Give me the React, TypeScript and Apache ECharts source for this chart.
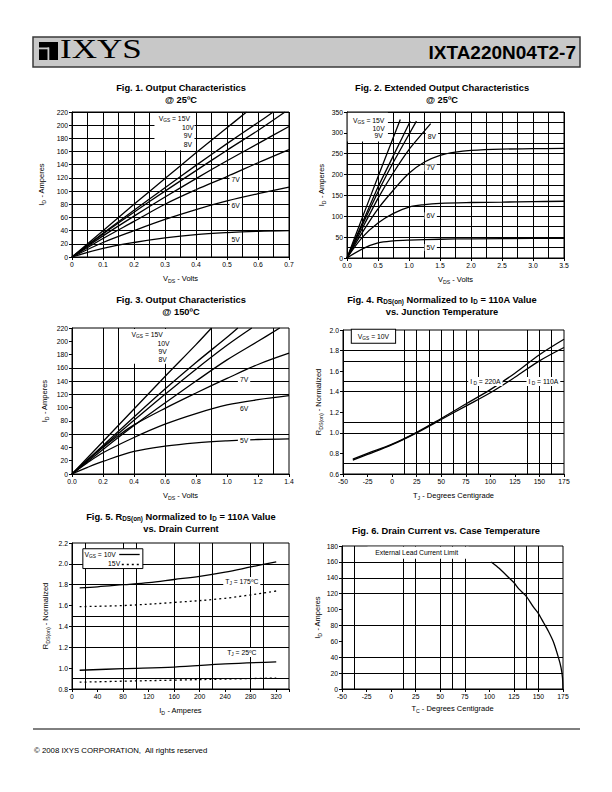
import React, { useEffect, useRef } from 'react';
import * as echarts from 'echarts';

const FONT = '"Liberation Sans", Arial, Helvetica, sans-serif';

// ---------------- Fig. 1  Output Characteristics @ 25ºC (VDS, ID) ----------------
const f1V15 = [[0, 0], [0.1, 40], [0.2, 80], [0.3, 119], [0.4, 158], [0.5, 196], [0.563, 220]];
const f1V10 = [[0, 0], [0.1, 36], [0.2, 71], [0.3, 105], [0.4, 139], [0.5, 172], [0.6, 204], [0.649, 220]];
const f1V9 = [[0, 0], [0.1, 35], [0.2, 68], [0.3, 100], [0.4, 131], [0.5, 162], [0.6, 192], [0.687, 220]];
const f1V8 = [[0, 0], [0.1, 32], [0.2, 62], [0.3, 91], [0.4, 119], [0.5, 146], [0.6, 172], [0.7, 198]];
const f1V7 = [[0, 0], [0.1, 28], [0.2, 54], [0.3, 80], [0.4, 102], [0.5, 122], [0.6, 143], [0.7, 163]];
const f1V6 = [[0, 0], [0.1, 22], [0.2, 40], [0.3, 57], [0.4, 72], [0.5, 85], [0.6, 96], [0.7, 106]];
const f1V5 = [[0, 0], [0.1, 13], [0.2, 22], [0.3, 29], [0.4, 34], [0.5, 37], [0.6, 39], [0.7, 40]];

// ---------------- Fig. 2  Extended Output Characteristics @ 25ºC ----------------
const f2V15 = [[0, 0], [0.25, 98], [0.5, 195], [0.86, 332]];
const f2V10 = [[0, 0], [0.25, 85], [0.5, 170], [0.75, 246], [1.02, 328]];
const f2V9 = [[0, 0], [0.25, 80], [0.5, 158], [0.75, 230], [1.12, 328]];
const f2V8 = [[0, 0], [0.25, 72], [0.5, 143], [0.75, 205], [1.0, 260], [1.35, 322]];
const f2V7 = [[0, 0], [0.25, 62], [0.5, 118], [0.75, 163], [1.0, 203], [1.25, 230], [1.5, 246], [1.75, 254], [2.0, 258], [2.5, 261], [3.0, 262], [3.5, 263]];
const f2V6 = [[0, 0], [0.25, 50], [0.5, 84], [0.75, 107], [1.0, 122], [1.25, 128], [1.5, 131], [2.0, 133], [2.5, 134], [3.0, 135], [3.5, 136]];
const f2V5 = [[0, 0], [0.25, 22], [0.5, 36], [0.75, 41], [1.0, 43], [1.5, 45], [2.0, 46], [3.0, 47], [3.5, 47]];

// ---------------- Fig. 3  Output Characteristics @ 150ºC ----------------
const f3V15 = [[0, 0], [0.2, 49], [0.4, 98], [0.6, 147], [0.8, 195], [0.9, 220]];
const f3V10 = [[0, 0], [0.2, 43], [0.4, 86], [0.6, 128], [0.8, 168], [1.0, 206], [1.07, 220]];
const f3V9 = [[0, 0], [0.2, 41], [0.4, 81], [0.6, 120], [0.8, 158], [1.0, 194], [1.16, 220]];
const f3V8 = [[0, 0], [0.2, 37], [0.4, 73], [0.6, 107], [0.8, 140], [1.0, 172], [1.2, 200], [1.34, 220]];
const f3V7 = [[0, 0], [0.1, 21], [0.2, 40], [0.3, 58], [0.4, 74], [0.6, 99], [0.8, 122], [1.0, 144], [1.2, 165], [1.4, 182]];
const f3V6 = [[0, 0], [0.1, 17], [0.2, 32], [0.4, 55], [0.6, 75], [0.8, 91], [1.0, 104], [1.2, 112], [1.4, 118]];
const f3V5 = [[0, 0], [0.1, 10], [0.2, 19], [0.4, 34], [0.6, 42], [0.8, 47], [1.0, 50], [1.2, 52], [1.4, 53]];

// ---------------- Fig. 4  RDS(on) vs TJ ----------------
const f4ID220 = [[-40, 0.745], [-25, 0.8], [0, 0.89], [25, 1.005], [50, 1.14], [75, 1.28], [100, 1.42], [125, 1.58], [150, 1.76], [175, 1.91]];
const f4ID110 = [[-40, 0.735], [-25, 0.79], [0, 0.885], [25, 1.0], [50, 1.13], [75, 1.26], [100, 1.39], [125, 1.54], [150, 1.7], [175, 1.83]];

// ---------------- Fig. 5  RDS(on) vs ID ----------------
const f5T175V10 = [[12, 1.77], [40, 1.78], [80, 1.8], [120, 1.82], [160, 1.85], [200, 1.88], [240, 1.92], [280, 1.97], [320, 2.02]];
const f5T175V15 = [[12, 1.59], [80, 1.6], [160, 1.63], [240, 1.67], [320, 1.74]];
const f5T25V10 = [[12, 0.98], [80, 0.995], [160, 1.01], [240, 1.04], [320, 1.06]];
const f5T25V15 = [[12, 0.865], [80, 0.875], [160, 0.885], [240, 0.895], [320, 0.905]];

// ---------------- Fig. 6  ID vs TC ----------------
const f6ID = [[102, 160], [110, 152], [120, 140], [125, 134], [130, 126], [137.5, 117], [145, 103], [150, 95], [155, 84], [160, 73], [165, 60], [170, 41], [173, 27], [174.5, 14], [175, 0]];

// ---------------- grid lines drawn in the reference (axis values) ----------------
const f3GridX = [0.2, 0.3, 0.4, 0.6, 0.9, 1.3];
const f3GridY = [60, 120, 140, 160];
const f4GridX = [12.5, 25, 37.5, 50, 62.5, 75, 87.5, 137.5, 150, 162.5];
const f4GridY = [0.7, 1.0, 1.1, 1.4, 1.5, 1.7, 1.8];
const f5GridX = [20, 80, 100, 160, 200, 220, 280, 300];
const f5GridY = [0.9, 1.2, 1.4, 1.5, 1.8, 2.0];
const f6GridX = [-37.5, 12.5, 25, 50, 62.5, 75, 125, 137.5, 150];
const f6GridY = [20, 40, 80, 120, 140, 160];

// ---------------- annotation texts (rich tokens: n normal, s subscript) ----------------
const f1Labels = [
  { t: '{n|V}{s|GS}{n| = 15V}', x: 0.33, y: 210 },
  { t: '10V', x: 0.374, y: 197 },
  { t: '9V', x: 0.374, y: 184 },
  { t: '8V', x: 0.374, y: 171 },
  { t: '7V', x: 0.528, y: 118, bg: true },
  { t: '6V', x: 0.528, y: 78, bg: true },
  { t: '5V', x: 0.528, y: 27, bg: true },
];
const f2Labels = [
  { t: '{n|V}{s|GS}{n| = 15V}', x: 0.35, y: 330 },
  { t: '10V', x: 0.51, y: 311 },
  { t: '9V', x: 0.51, y: 293 },
  { t: '8V', x: 1.37, y: 292, bg: true },
  { t: '7V', x: 1.35, y: 216, bg: true },
  { t: '6V', x: 1.35, y: 101, bg: true },
  { t: '5V', x: 1.35, y: 25, bg: true },
];
const f3Labels = [
  { t: '{n|V}{s|GS}{n| = 15V}', x: 0.485, y: 210 },
  { t: '10V', x: 0.59, y: 197 },
  { t: '9V', x: 0.585, y: 185 },
  { t: '8V', x: 0.585, y: 173 },
  { t: '7V', x: 1.11, y: 142, bg: true },
  { t: '6V', x: 1.11, y: 98, bg: true },
  { t: '5V', x: 1.11, y: 50, bg: true },
];
const f4Labels = [
  { t: '{n|V}{s|GS}{n| = 10V}', x: -19, y: 1.94, border: true },
  { t: '{n|I}{s| D}{n| = 220A}', x: 95, y: 1.5, bg: true },
  { t: '{n|I}{s| D}{n| = 110A}', x: 154, y: 1.5, bg: true },
];
const f5Labels = [
  { t: '{n|V}{s|GS}{n| = 10V}', x: 44, y: 2.09 },
  { t: '15V', x: 66, y: 2.0 },
  { t: '{n|T}{s|J}{n| = 175ºC}', x: 266, y: 1.83, bg: true },
  { t: '{n|T}{s|J}{n| = 25ºC}', x: 266, y: 1.15, bg: true },
];
const f6Labels = [{ t: 'External Lead Current Limit', x: 26, y: 171.5 }];

// white boxes behind legends [x1, y1, x2, y2, bordered]
const f1Boxes = [[0.266, 162, 0.395, 218.5, false]];
const f2Boxes = [[0.01, 279, 0.66, 348, false]];
const f3Boxes = [[0.335, 166, 0.63, 218.5, false]];
const f5Boxes = [[17, 1.955, 111, 2.145, true]];
const f6Boxes = [[-24, 164, 79, 179, false]];
// legend sample strokes of Fig. 5 [x1, y, x2, dotted]
const f5LegendSamples = [[74, 2.09, 106, false], [78, 2.0, 106, true]];

const GRIDS = [
  { left: 72, top: 112, width: 217, height: 145 },
  { left: 347, top: 112, width: 217, height: 146 },
  { left: 72, top: 328, width: 217, height: 146 },
  { left: 343, top: 330, width: 221, height: 144 },
  { left: 72, top: 543, width: 217, height: 146 },
  { left: 342, top: 546, width: 221, height: 143 },
];

const BLACK = '#000';
const LBL_RICH = {
  n: { fontSize: 6.8, fontFamily: FONT, color: BLACK, lineHeight: 9 },
  s: { fontSize: 4.8, fontFamily: FONT, color: BLACK, verticalAlign: 'bottom', lineHeight: 6 },
};
const NAME_RICH = {
  n: { fontSize: 7.5, fontFamily: FONT, color: BLACK, lineHeight: 10 },
  s: { fontSize: 5.2, fontFamily: FONT, color: BLACK, verticalAlign: 'bottom', lineHeight: 6 },
};
const TITLE_RICH = {
  b: { fontSize: 9.3, fontWeight: 'bold', fontFamily: FONT, fill: BLACK, color: BLACK, lineHeight: 11 },
  s: { fontSize: 6.3, fontWeight: 'bold', fontFamily: FONT, fill: BLACK, color: BLACK, verticalAlign: 'bottom', lineHeight: 7 },
};

const fix1 = (v: number) => v.toFixed(1);
const int0 = (v: number) => String(Math.round(v));

function axis(gi: number, min: number, max: number, interval: number, fmt: any, name: string, nameGap: number, o: any = {}) {
  return {
    type: 'value', gridIndex: gi, min, max, interval, name, nameLocation: 'middle', nameGap,
    nameTextStyle: { fontSize: 7.5, color: BLACK, fontFamily: FONT, rich: NAME_RICH },
    axisLine: { show: true, onZero: false, lineStyle: { color: BLACK, width: 1 } },
    axisTick: { show: true, length: 3, lineStyle: { color: BLACK, width: 1 } },
    axisLabel: { fontSize: 6.8, color: BLACK, fontFamily: FONT, margin: 4, formatter: fmt, hideOverlap: false },
    splitLine: { show: !!o.split, lineStyle: { color: BLACK, width: 1 } },
    minorTick: { show: false, splitNumber: o.minor || 5 },
    minorSplitLine: { show: !!o.minor, lineStyle: { color: BLACK, width: 1 } },
  };
}

function curve(gi: number, data: number[][], o: any = {}) {
  return {
    type: 'line', xAxisIndex: gi, yAxisIndex: gi, data, showSymbol: false, symbol: 'none',
    smooth: o.smooth ?? 0.35, silent: true, z: 3,
    lineStyle: { color: BLACK, width: 1.3, type: o.dotted ? [2, 3] : 'solid' },
  };
}

function decor(gi: number, gx: number[], gy: number[], boxes: any[], labels: any[], samples: any[] = []) {
  const out: any[] = [];
  if (gx.length || gy.length) {
    out.push({
      type: 'line', xAxisIndex: gi, yAxisIndex: gi, data: [], silent: true,
      markLine: {
        z: 0, silent: true, symbol: ['none', 'none'], label: { show: false }, emphasis: { disabled: true },
        lineStyle: { color: BLACK, width: 1, type: 'solid' },
        data: [...gx.map((v) => ({ xAxis: v })), ...gy.map((v) => ({ yAxis: v }))],
      },
    });
  }
  if (boxes.length) {
    out.push({
      type: 'line', xAxisIndex: gi, yAxisIndex: gi, data: [], silent: true,
      markArea: {
        z: 1, silent: true, label: { show: false }, emphasis: { disabled: true },
        itemStyle: { color: '#fff' },
        data: boxes.map((b) => [
          { coord: [b[0], b[1]], itemStyle: { color: '#fff', borderColor: BLACK, borderWidth: b[4] ? 1 : 0 } },
          { coord: [b[2], b[3]] },
        ]),
      },
    });
  }
  if (samples.length) {
    out.push({
      type: 'line', xAxisIndex: gi, yAxisIndex: gi, data: [], silent: true,
      markLine: {
        z: 4, silent: true, symbol: ['none', 'none'], label: { show: false }, emphasis: { disabled: true },
        data: samples.map((s) => [
          { coord: [s[0], s[1]], lineStyle: { color: BLACK, width: 1.3, type: s[3] ? [2, 3] : 'solid' } },
          { coord: [s[2], s[1]] },
        ]),
      },
    });
  }
  if (labels.length) {
    out.push({
      type: 'line', xAxisIndex: gi, yAxisIndex: gi, data: [], silent: true,
      markPoint: {
        z: 5, silent: true, symbol: 'circle', symbolSize: 1, itemStyle: { color: 'rgba(0,0,0,0)' },
        emphasis: { disabled: true },
        data: labels.map((l) => ({
          coord: [l.x, l.y],
          label: {
            show: true, position: 'inside', formatter: l.t, color: BLACK, fontSize: 6.8, fontFamily: FONT,
            rich: LBL_RICH,
            backgroundColor: l.bg || l.border ? '#fff' : 'transparent',
            borderColor: l.border ? BLACK : 'transparent', borderWidth: l.border ? 1 : 0,
            padding: l.border ? [2, 6, 2, 6] : l.bg ? [0, 2, 0, 2] : 0,
          },
        })),
      },
    });
  }
  return out;
}

function gtext(x: number, y: number, text: string, fontSize: number, o: any = {}) {
  const align = o.align || 'center';
  const valign = o.valign || 'middle';
  return {
    type: 'text', x, y, z: 10, scaleX: o.scaleX || 1,
    style: {
      text, fontSize, fontWeight: o.bold ? 'bold' : 'normal', fontFamily: o.family || FONT,
      fill: BLACK, textFill: BLACK, align, textAlign: align, verticalAlign: valign, textVerticalAlign: valign,
      rich: o.rich,
    },
  };
}

const ID_NAME = '{n|I}{s|D}{n| - Amperes}';
const VDS_NAME = '{n|V}{s|DS}{n| - Volts}';
const RDS_NAME = '{n|R}{s|DS(on)}{n| - Normalized}';

function buildOption() {
  const xAxis = [
    axis(0, 0, 0.7, 0.1, (v: number) => (v === 0 ? '0' : v.toFixed(1)), VDS_NAME, 16, { split: true, minor: 2 }),
    axis(1, 0, 3.5, 0.5, fix1, VDS_NAME, 16, { split: true, minor: 2 }),
    axis(2, 0, 1.4, 0.2, fix1, VDS_NAME, 16),
    axis(3, -50, 175, 25, int0, '{n|T}{s|J}{n| - Degrees Centigrade}', 16),
    axis(4, 0, 340, 40, (v: number) => (v > 330 ? '' : int0(v)), '{n|I}{s|D}{n| - Amperes}', 16),
    axis(5, -50, 175, 25, int0, '{n|T}{s|C}{n| - Degrees Centigrade}', 14),
  ];
  const yAxis = [
    axis(0, 0, 220, 20, int0, ID_NAME, 26, { split: true }),
    axis(1, 0, 350, 50, int0, ID_NAME, 21, { split: true, minor: 2 }),
    axis(2, 0, 220, 20, int0, ID_NAME, 23),
    axis(3, 0.6, 2.0, 0.2, fix1, RDS_NAME, 20),
    axis(4, 0.8, 2.2, 0.2, fix1, RDS_NAME, 22),
    axis(5, 0, 180, 20, int0, ID_NAME, 18),
  ];

  const series: any[] = [
    ...[f1V15, f1V10, f1V9, f1V8, f1V7, f1V6, f1V5].map((d) => curve(0, d)),
    ...decor(0, [], [], f1Boxes, f1Labels),
    ...[f2V15, f2V10, f2V9, f2V8].map((d) => curve(1, d, { smooth: 0.15 })),
    ...[f2V7, f2V6, f2V5].map((d) => curve(1, d)),
    ...decor(1, [], [], f2Boxes, f2Labels),
    ...[f3V15, f3V10, f3V9, f3V8, f3V7, f3V6, f3V5].map((d) => curve(2, d)),
    ...decor(2, f3GridX, f3GridY, f3Boxes, f3Labels),
    curve(3, f4ID220), curve(3, f4ID110),
    ...decor(3, f4GridX, f4GridY, [], f4Labels),
    curve(4, f5T175V10), curve(4, f5T175V15, { dotted: true }), curve(4, f5T25V10), curve(4, f5T25V15, { dotted: true }),
    ...decor(4, f5GridX, f5GridY, f5Boxes, f5Labels, f5LegendSamples),
    curve(5, f6ID, { smooth: 0.2 }),
    ...decor(5, f6GridX, f6GridY, f6Boxes, f6Labels),
  ];

  const titleOpt = { bold: true, rich: TITLE_RICH };
  const graphic: any[] = [
    // header bar
    { type: 'rect', shape: { x: 33, y: 37, width: 547, height: 30 }, style: { fill: '#c8c8c8', stroke: '#3a3a3a', lineWidth: 1.5 }, z: 9 },
    { type: 'rect', shape: { x: 39, y: 42, width: 19, height: 18 }, style: { fill: BLACK }, z: 10 },
    { type: 'rect', shape: { x: 39, y: 47.5, width: 10, height: 1.8 }, style: { fill: '#c8c8c8' }, z: 11 },
    { type: 'rect', shape: { x: 47.5, y: 47.5, width: 1.8, height: 12.5 }, style: { fill: '#c8c8c8' }, z: 11 },
    gtext(60, 62, 'IXYS', 27, { align: 'left', valign: 'bottom', family: '"Liberation Serif", "Times New Roman", serif', scaleX: 1.3 }),
    gtext(576, 52, 'IXTA220N04T2-7', 19, { align: 'right', bold: true }),
    // figure titles
    gtext(181, 88, 'Fig. 1. Output Characteristics', 9.3, titleOpt),
    gtext(181, 99.5, '@ 25ºC', 9.3, titleOpt),
    gtext(442, 88, 'Fig. 2. Extended Output Characteristics', 9.3, titleOpt),
    gtext(442, 99.5, '@ 25ºC', 9.3, titleOpt),
    gtext(181, 300, 'Fig. 3. Output Characteristics', 9.3, titleOpt),
    gtext(181, 311.5, '@ 150ºC', 9.3, titleOpt),
    gtext(442, 300, 'Fig. 4. R{s|DS(on)} Normalized to I{s|D} = 110A Value', 9.3, titleOpt),
    gtext(442, 312, 'vs. Junction Temperature', 9.3, titleOpt),
    gtext(181, 517, 'Fig. 5. R{s|DS(on)} Normalized to I{s|D} = 110A Value', 9.3, titleOpt),
    gtext(181, 529, 'vs. Drain Current', 9.3, titleOpt),
    gtext(446, 531, 'Fig. 6. Drain Current vs. Case Temperature', 9.3, titleOpt),
    // footer
    { type: 'line', shape: { x1: 33, y1: 729, x2: 580, y2: 729 }, style: { stroke: BLACK, lineWidth: 1 }, z: 10 },
    gtext(34, 750, '© 2008 IXYS CORPORATION,  All rights reserved', 7.8, { align: 'left' }),
  ];

  return {
    animation: false,
    backgroundColor: '#fff',
    textStyle: { fontFamily: FONT },
    grid: GRIDS.map((g) => ({ ...g, show: true, borderColor: BLACK, borderWidth: 1, backgroundColor: 'transparent', containLabel: false })),
    xAxis,
    yAxis,
    series,
    graphic,
  };
}

export default function App() {
  const ref = useRef<HTMLDivElement>(null);
  useEffect(() => {
    if (!ref.current) return;
    const chart = echarts.init(ref.current, undefined, { renderer: 'svg' });
    chart.setOption(buildOption() as any);
    return () => chart.dispose();
  }, []);
  return <div ref={ref} style={{ position: 'absolute', left: 0, top: 0, width: 612, height: 792, background: '#fff' }} />;
}
